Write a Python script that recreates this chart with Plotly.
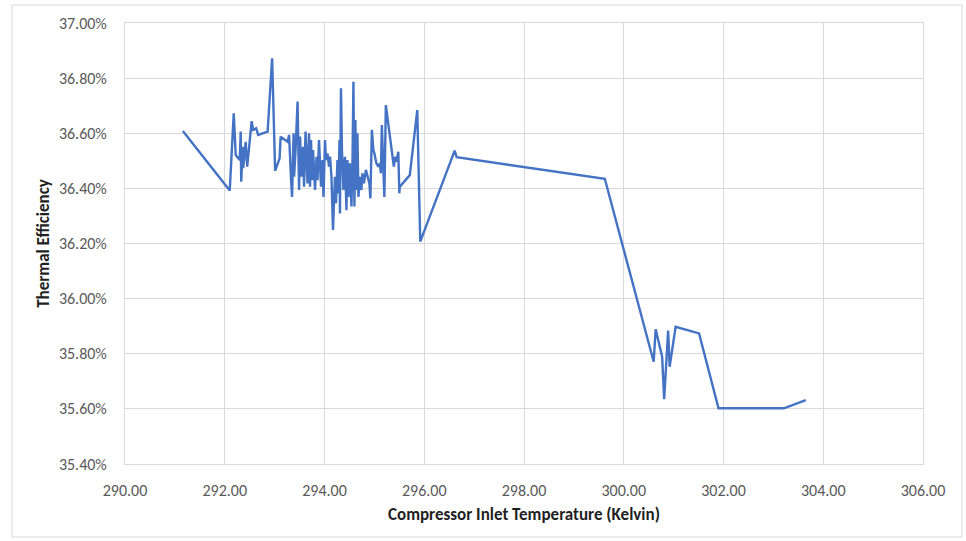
import plotly.graph_objects as go

temperature_k = [
    291.16, 292.10, 292.18, 292.22, 292.30, 292.32, 292.33, 292.36, 292.37, 292.42,
    292.45, 292.54, 292.57, 292.63, 292.67, 292.86, 292.95, 293.01, 293.10, 293.12,
    293.26, 293.29, 293.33, 293.35, 293.38, 293.39, 293.42, 293.46, 293.49, 293.51,
    293.54, 293.57, 293.59, 293.62, 293.66, 293.69, 293.71, 293.73, 293.75, 293.77,
    293.81, 293.84, 293.86, 293.89, 293.93, 293.96, 293.98, 294.01, 294.03, 294.06,
    294.09, 294.11, 294.14, 294.17, 294.21, 294.23, 294.26, 294.28, 294.30, 294.31,
    294.33, 294.35, 294.38, 294.41, 294.44, 294.46, 294.48, 294.51, 294.54, 294.56,
    294.58, 294.60, 294.62, 294.64, 294.66, 294.68, 294.71, 294.74, 294.76, 294.79,
    294.83, 294.86, 294.90, 294.92, 294.95, 294.98, 295.00, 295.04, 295.08, 295.11,
    295.13, 295.15, 295.18, 295.20, 295.23, 295.26, 295.30, 295.34, 295.39, 295.42,
    295.44, 295.48, 295.50, 295.51, 295.71, 295.86, 295.92, 296.61, 296.65, 299.62,
    300.60, 300.64, 300.77, 300.81, 300.89, 300.92, 301.04, 301.51, 301.90, 303.21,
    303.65,
]

thermal_efficiency_pct = [
    36.608, 36.392, 36.672, 36.521, 36.503, 36.606, 36.424, 36.551, 36.473, 36.569,
    36.479, 36.644, 36.612, 36.618, 36.594, 36.606, 36.872, 36.464, 36.509, 36.587,
    36.569, 36.594, 36.430, 36.369, 36.600, 36.442, 36.539, 36.715, 36.394, 36.588,
    36.442, 36.551, 36.406, 36.606, 36.418, 36.600, 36.406, 36.575, 36.430, 36.539,
    36.394, 36.515, 36.430, 36.575, 36.406, 36.503, 36.369, 36.575, 36.503, 36.527,
    36.479, 36.515, 36.442, 36.249, 36.442, 36.346, 36.503, 36.382, 36.575, 36.309,
    36.763, 36.539, 36.394, 36.515, 36.321, 36.503, 36.369, 36.491, 36.334, 36.479,
    36.787, 36.334, 36.648, 36.394, 36.600, 36.369, 36.442, 36.394, 36.455, 36.418,
    36.467, 36.442, 36.418, 36.364, 36.612, 36.539, 36.527, 36.491, 36.479, 36.491,
    36.455, 36.630, 36.503, 36.369, 36.702, 36.660, 36.588, 36.539, 36.479, 36.515,
    36.497, 36.533, 36.382, 36.406, 36.448, 36.684, 36.207, 36.537, 36.513, 36.435,
    35.771, 35.889, 35.789, 35.635, 35.884, 35.753, 35.898, 35.874, 35.602, 35.602,
    35.632,
]

x_range = [290, 306]
x_tick_step = 2
y_range = [35.4, 37.0]
y_tick_step = 0.2

x_title = "Compressor Inlet Temperature (Kelvin)"
y_title = "Thermal Efficiency"

FONT = "Carlito, Lato, 'Liberation Sans Narrow', sans-serif"
GRID = "#d9d9d9"

fig = go.Figure()
fig.add_trace(go.Scatter(
    x=temperature_k,
    y=thermal_efficiency_pct,
    mode="lines",
    line=dict(color="#4472c4", width=2.4),
    showlegend=False,
))

fig.update_layout(
    width=966,
    height=541,
    margin=dict(l=125, r=43, t=23, b=77),
    paper_bgcolor="white",
    plot_bgcolor="white",
    font=dict(family=FONT, color="#595959", size=16),
    shapes=[dict(
        type="rect", xref="paper", yref="paper",
        x0=-0.1416, x1=1.0489, y0=-0.1655, y1=1.0408,
        line=dict(color="#d9d9d9", width=1), fillcolor="rgba(0,0,0,0)",
        layer="below",
    )],
)

fig.update_xaxes(
    range=x_range,
    tickmode="linear", tick0=x_range[0], dtick=x_tick_step,
    tickformat=".2f",
    showgrid=True, gridcolor=GRID, gridwidth=1,
    zeroline=False,
    showline=True, linecolor=GRID, linewidth=1, mirror=True,
    ticks="", ticklabelstandoff=12,
    tickfont=dict(family=FONT, size=16, color="#595959"),
    title=dict(text=x_title, standoff=8,
               font=dict(family=FONT, size=17, color="#1f1f1f", weight="bold")),
)

fig.update_yaxes(
    range=y_range,
    tickmode="linear", tick0=y_range[0], dtick=y_tick_step,
    tickformat=".2f",
    ticksuffix="%",
    showgrid=True, gridcolor=GRID, gridwidth=1,
    zeroline=False,
    showline=True, linecolor=GRID, linewidth=1, mirror=True,
    ticks="", ticklabelstandoff=14,
    tickfont=dict(family=FONT, size=16, color="#595959"),
    title=dict(text=y_title, standoff=4,
               font=dict(family=FONT, size=17, color="#1f1f1f", weight="bold")),
)

fig.write_html("out.html", config={"displayModeBar": False},
               post_script="document.body.style.margin='0';")
